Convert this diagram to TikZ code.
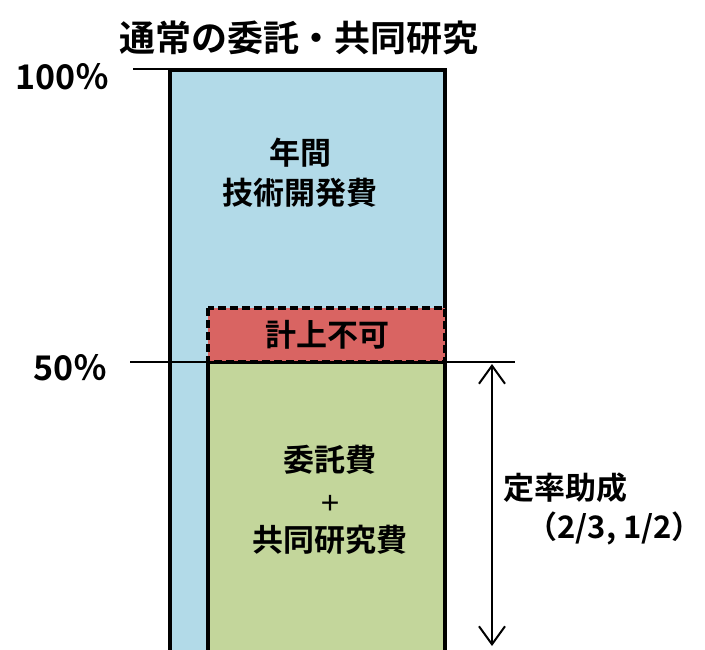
\documentclass[tikz,border=0pt]{standalone}
\usepackage{fontspec}
\setmainfont{Noto Sans CJK JP}[BoldFont=* Bold]
\usetikzlibrary{arrows.meta}
\definecolor{barblue}{RGB}{178,218,232}
\definecolor{barred}{RGB}{217,100,98}
\definecolor{bargreen}{RGB}{195,214,155}
\tikzset{
BAR/.style={draw=black,line width=3.4pt,fill=#1},
BAR/.default=barblue,
CUT/.style={draw=black,line width=3.4pt,dash pattern=on 8pt off 4pt,fill=barred},
LEVEL/.style={draw=black,line width=2pt},
SPAN/.style={draw=black,line width=2pt,{Straight Barb[length=18pt,width=26pt]}-{Straight Barb[length=18pt,width=26pt]}},
LBL/.style={font=\bfseries\fontsize{31}{40}\selectfont,align=center,inner sep=0pt},
}
\begin{document}
\begin{tikzpicture}
[x=1pt, y=-1pt]
	\useasboundingbox (0,0) rectangle (705,649);
	\clip (0,0) rectangle (705,649);
	\path[BAR] (170,70) rectangle (445,660);
	\path[BAR=bargreen] (208,362) rectangle (445,660);
	\path[CUT] (208,308) rectangle (445,362);
	\path[LEVEL] (133,69) -- (205,69);
	\path[LEVEL] (130,362) -- (515,362);
	\coordinate (top) at (492,364);
	\coordinate (bottom) at (492,646);
	\path[SPAN] (top) -- (bottom);
	\node[LBL,font=\bfseries\fontsize{36}{40}\selectfont] (title) at (299,38) {通常の委託・共同研究};
	\node[LBL,anchor=east,font=\bfseries\fontsize{34}{40}\selectfont] (full) at (110,77) {100％};
	\node[LBL,anchor=east,font=\bfseries\fontsize{34}{40}\selectfont] (half) at (108,368) {50％};
	\node[LBL] (annual) at (300,173) {年間\\技術開発費};
	\node[LBL] (excluded) at (327,335) {計上不可};
	\node[LBL] (costs) at (330,500) {委託費\\{\fontsize{22}{30}\selectfont ＋}\\共同研究費};
	\node[LBL,anchor=west] (rate) at (503,488) {定率助成};
	\node[LBL,anchor=east] (ratio) at (703,528) {（2/3, 1/2）};
\end{tikzpicture}
\end{document}
